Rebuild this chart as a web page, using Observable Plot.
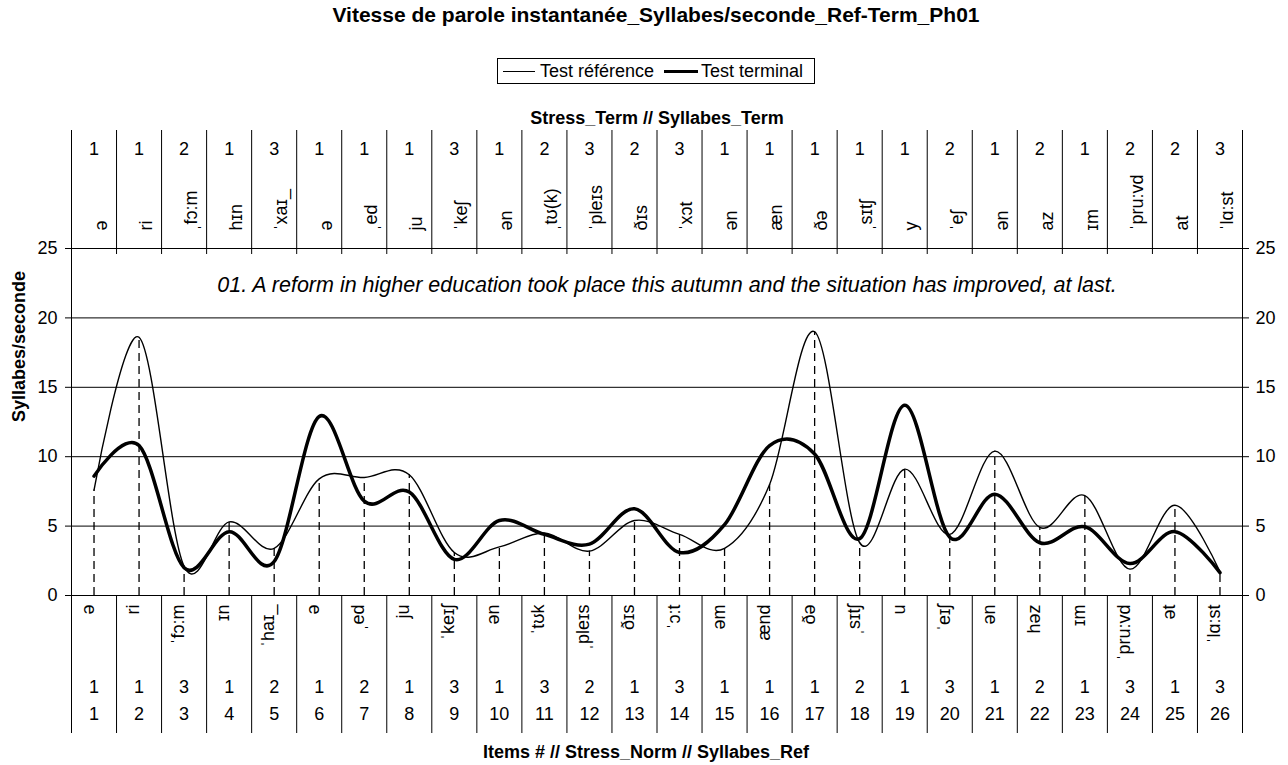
<!DOCTYPE html>
<html>
<head>
<meta charset="utf-8">
<script src="https://cdn.jsdelivr.net/npm/d3@7"></script>
<script src="https://cdn.jsdelivr.net/npm/@observablehq/plot@0.6"></script>
<style>
  html, body { margin: 0; padding: 0; background: #fff; }
  body { width: 1288px; height: 765px; overflow: hidden; font-family: "Liberation Sans", Arial, sans-serif; color: #000; }
  #title { height: 30px; line-height: 30px; text-align: center; padding-left: 24px; font-weight: bold; font-size: 21px; white-space: nowrap; }
  #legendWrap { height: 64px; position: relative; }
  #legend { position: absolute; left: 497px; top: 28px; width: 316px; height: 24px; border: 1px solid #000; display: flex; align-items: center; font-size: 18px; white-space: nowrap; }
  .sw { display: inline-block; height: 0; }
  #chart svg { display: block; }
</style>
</head>
<body>
<div id="title">Vitesse de parole instantanée_Syllabes/seconde_Ref-Term_Ph01</div>
<div id="legendWrap">
  <div id="legend">
    <span class="sw" style="width:32px;margin-left:5px;border-top:1.3px solid #000"></span>
    <span style="margin-left:5px">Test référence</span>
    <span class="sw" style="width:34px;margin-left:10px;border-top:3.5px solid #000"></span>
    <span style="margin-left:3px">Test terminal</span>
  </div>
</div>
<div id="chart"></div>
<script>
// ---- data ----
const items = [1,2,3,4,5,6,7,8,9,10,11,12,13,14,15,16,17,18,19,20,21,22,23,24,25,26];
const stressTerm = [1,1,2,1,3,1,1,1,3,1,2,3,2,3,1,1,1,1,1,2,1,2,1,2,2,3];
const syllTerm = ["ə","ri","ˌfɔ:m","hɪn","ˈxaɪ_","ə","ˌed","ju","ˈkeʃ","ən","ˌtʊ(k)","ˈpleɪs","ðɪs","ˈxɔt","ən","æn","ðə","ˌsɪtʃ","y","ˈeʃ","ən","az","ɪm","ˈpru:vd","at","ˈlɑ:st"];
const stressNorm = [1,1,3,1,2,1,2,1,3,1,3,2,1,3,1,1,1,2,1,3,1,2,1,3,1,3];
const syllRef = ["ə","ri","ˈfɔ:m","ɪn","ˈhaɪ_","ə","ˌed","ju","ˈkeɪʃ","ən","ˈtʊk","ˌpleɪs","ðɪs","ˈɔ:t","əm","ænd","ðə","ˌsɪtʃ","u","ˈeɪʃ","ən","həz","ɪm","ˈpru:vd","ət","ˈlɑ:st"];
const testReference = [7.6,18.6,2.1,5.3,3.4,8.4,8.5,8.7,3.1,3.5,4.5,3.2,5.4,4.4,3.4,8.0,19.0,3.8,9.1,4.4,10.4,4.9,7.2,1.9,6.5,1.7];
const testTerminal = [8.6,10.8,2.0,4.6,2.45,12.9,6.8,7.45,2.6,5.4,4.4,3.7,6.25,3.1,5.1,10.8,10.2,4.1,13.7,4.2,7.3,3.8,4.95,2.3,4.6,1.65];
const yTicks = [0,5,10,15,20,25];
const gridValues = [5,10,15,20];
const sentence = "01. A reform in higher education took place this autumn and the situation has improved, at last.";
const yLabel = "Syllabes/seconde";
const topTitle = "Stress_Term // Syllabes_Term";
const bottomTitle = "Items # // Stress_Norm // Syllabes_Ref";

const rows = items.map((item, i) => ({item, ref: testReference[i], term: testTerminal[i]}));
const boundaries = items.map(d => d - 0.5).concat([items[items.length - 1] + 0.5]);
const innerBoundaries = boundaries.slice(1, -1);

const W = 1288, H = 671, mT = 154, mB = 170, mL = 71, mR = 46;
const plotH = H - mT - mB;

const chart = Plot.plot({
  width: W, height: H,
  marginTop: mT, marginBottom: mB, marginLeft: mL, marginRight: mR,
  style: {fontFamily: "'Liberation Sans', Arial, sans-serif", fontSize: "18px", color: "#000", background: "#fff", overflow: "visible"},
  x: {type: "linear", domain: [0.5, 26.5], axis: null},
  y: {domain: [0, 25], axis: null},
  marks: [
    Plot.ruleY(gridValues, {stroke: "#000", strokeWidth: 1}),
    Plot.frame({stroke: "#000", strokeWidth: 1}),
    Plot.axisY(yTicks, {anchor: "left", tickSize: 6, tickPadding: 8, label: null, stroke: "#000"}),
    Plot.axisY(yTicks, {anchor: "right", tickSize: 6, tickPadding: 7, label: null, stroke: "#000"}),
    // top table separators
    Plot.ruleX(boundaries, {x: d => d, stroke: "#000", strokeWidth: 1, insetTop: -118, insetBottom: plotH}),
    Plot.ruleX(innerBoundaries, {x: d => d, stroke: "#000", strokeWidth: 1, insetBottom: plotH - 6}),
    // bottom table separators
    Plot.ruleX(boundaries, {x: d => d, stroke: "#000", strokeWidth: 1, insetTop: plotH, insetBottom: -138}),
    // drop lines
    Plot.ruleX(rows, {x: "item", y1: 0, y2: "ref", stroke: "#000", strokeWidth: 1.3, strokeDasharray: "8,5"}),
    // series
    Plot.line(rows, {x: "item", y: "ref", curve: "cardinal", stroke: "#000", strokeWidth: 1.4}),
    Plot.line(rows, {x: "item", y: "term", curve: "cardinal", stroke: "#000", strokeWidth: 3.5}),
    // sentence
    Plot.text([sentence], {text: d => d, frameAnchor: "top", dy: 28, dx: 10, fontStyle: "italic", fontSize: 21.5, fill: "#000"}),
    // top table
    Plot.text([topTitle], {text: d => d, frameAnchor: "top", dy: -137, fontWeight: "bold", fill: "#000"}),
    Plot.text(stressTerm, {x: (d, i) => items[i], text: d => String(d), frameAnchor: "top", dy: -106, fill: "#000"}),
    Plot.text(syllTerm, {x: (d, i) => items[i], text: d => d, frameAnchor: "top", dy: -18, rotate: -90, textAnchor: "start", fill: "#000"}),
    // bottom table
    Plot.text(syllRef, {x: (d, i) => items[i], text: d => d, frameAnchor: "bottom", dy: 9, rotate: -90, textAnchor: "end", fill: "#000"}),
    Plot.text(stressNorm, {x: (d, i) => items[i], text: d => String(d), frameAnchor: "bottom", dy: 97, fill: "#000"}),
    Plot.text(items, {x: d => d, text: d => String(d), frameAnchor: "bottom", dy: 124, fill: "#000"}),
    Plot.text([bottomTitle], {text: d => d, frameAnchor: "bottom", dy: 162, dx: -11, fontWeight: "bold", fill: "#000"}),
    // y label
    Plot.text([yLabel], {text: d => d, frameAnchor: "left", dx: -52.5, rotate: -90, fontWeight: "bold", fill: "#000"})
  ]
});
document.getElementById("chart").appendChild(chart);
</script>
</body>
</html>
